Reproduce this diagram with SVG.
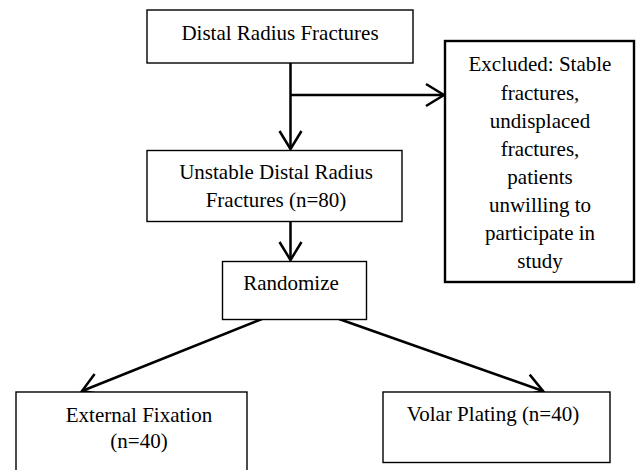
<svg xmlns="http://www.w3.org/2000/svg" width="636" height="470" viewBox="0 0 636 470">
<style>
.box{fill:#fff;stroke:#000;stroke-width:1.4}
.thick{stroke-width:2.4}
.t{font-family:"Liberation Serif","Times New Roman",serif;font-size:21px;fill:#000;text-anchor:middle}
.c{stroke:#000;stroke-width:2.5;fill:none}
</style>
<defs>
<marker id="a" markerUnits="userSpaceOnUse" markerWidth="24" markerHeight="28" viewBox="0 0 24 28" refX="20" refY="14" orient="auto">
<path d="M2,3 L20,14 L2,25" fill="none" stroke="#000" stroke-width="2.5"/>
</marker>
</defs>
<rect width="636" height="470" fill="#fff"/>
<g id="connectors">
<line class="c" x1="290.5" y1="63" x2="290.5" y2="149" marker-end="url(#a)"/>
<line class="c" x1="290.5" y1="95" x2="444" y2="95" marker-end="url(#a)"/>
<line class="c" x1="290.5" y1="222" x2="290.5" y2="260" marker-end="url(#a)"/>
<line class="c" x1="262" y1="319" x2="82" y2="391" marker-end="url(#a)"/>
<line class="c" x1="339" y1="319" x2="543" y2="391" marker-end="url(#a)"/>
</g>
<g id="distal">
<rect class="box" x="147" y="10" width="266" height="53"/>
<text class="t" x="280" y="40">Distal Radius Fractures</text>
</g>
<g id="excluded">
<rect class="box thick" x="445" y="41" width="189" height="241"/>
<text class="t" x="540" y="71">Excluded: Stable</text>
<text class="t" x="540" y="100">fractures,</text>
<text class="t" x="540" y="128">undisplaced</text>
<text class="t" x="540" y="156">fractures,</text>
<text class="t" x="540" y="184">patients</text>
<text class="t" x="540" y="212">unwilling to</text>
<text class="t" x="540" y="240">participate in</text>
<text class="t" x="540" y="268">study</text>
</g>
<g id="unstable">
<rect class="box" x="147" y="150.5" width="255" height="71"/>
<text class="t" x="276" y="179">Unstable Distal Radius</text>
<text class="t" x="276" y="207">Fractures (n=80)</text>
</g>
<g id="randomize">
<rect class="box" x="222.5" y="261.5" width="144" height="58"/>
<text class="t" x="291" y="290">Randomize</text>
</g>
<g id="external">
<rect class="box" x="16" y="392" width="231" height="82"/>
<text class="t" x="139" y="422">External Fixation</text>
<text class="t" x="139" y="448">(n=40)</text>
</g>
<g id="volar">
<rect class="box" x="383" y="392" width="227" height="70.5"/>
<text class="t" x="493" y="421">Volar Plating (n=40)</text>
</g>
</svg>
